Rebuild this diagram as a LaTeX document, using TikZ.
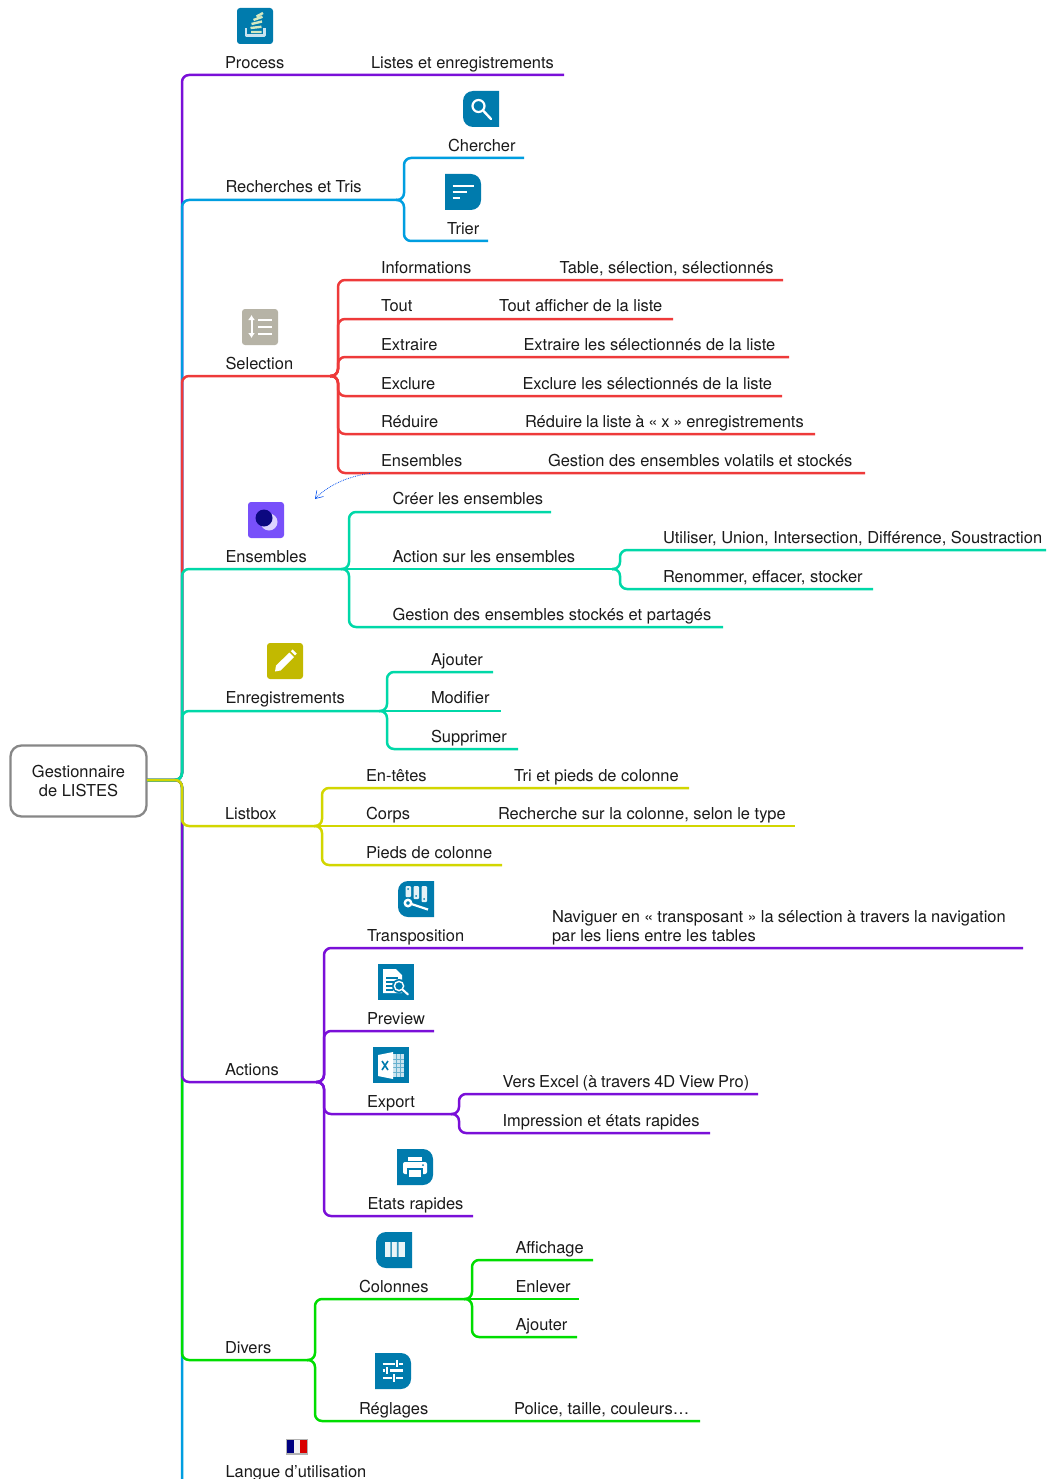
\documentclass[tikz,border=0pt]{standalone}
\usepackage{fontspec}
\setmainfont{TeX Gyre Heros}
\usetikzlibrary{arrows.meta}
\definecolor{cpurple}{HTML}{7A0FD8}
\definecolor{cblue}{HTML}{009EE0}
\definecolor{cred}{HTML}{EE3A3A}
\definecolor{cteal}{HTML}{00D8A8}
\definecolor{cyel}{HTML}{D2D600}
\definecolor{cgreen}{HTML}{00DD00}
\definecolor{ibl}{HTML}{007BAD}
\definecolor{igr}{HTML}{B6B3A6}
\definecolor{ivi}{HTML}{7850FA}
\definecolor{iol}{HTML}{C2B900}
\definecolor{ink}{HTML}{1A1A1A}
\definecolor{paper}{HTML}{D5E8C0}
\tikzset{
  lbl/.style={anchor=base west,inner sep=0pt,outer sep=0pt,text=ink,font=\fontsize{16.45}{19}\selectfont},
  conn/.style={line width=2.5pt,rounded corners=7pt},
  rootbox/.style={draw=black!47,line width=2.3pt,fill=white,rounded corners=11pt,minimum width=136pt,minimum height=71pt,inner sep=0pt,align=center,text=ink,font=\fontsize{16.45}{19}\selectfont},
  glyph/.style={white,line width=2pt},
  relation/.style={draw=blue!50!cblue,line width=.8pt,densely dotted,-{Straight Barb[length=7pt,width=9pt,line width=.6pt]}}
}
% branch: colour, start, spine coordinate, end
\newcommand{\branch}[4]{\draw[conn,#1] (#2) -- (#2 -| #3) -- (#3 |- #4) -- (#4);}
% straight: colour, start, end
\newcommand{\straight}[3]{\draw[conn,#1] (#2) -- (#3);}
% text label: name, x, baseline y, text
\newcommand{\tl}[4]{\node[lbl] (#1) at (#2,#3) {#4};}
% icon plates inside a 36 unit box
\newcommand{\plateA}[1]{\fill[#1,rounded corners=3pt] (0,0) rectangle (36,36);}
\newcommand{\plateL}[1]{\fill[#1] (36,0) [rounded corners=10pt] -- (0,0) -- (0,36) [sharp corners] -- (36,36) -- cycle;}
\newcommand{\plateR}[1]{\fill[#1] (0,36) -- (0,0) [rounded corners=10pt] -- (36,0) -- (36,36) [sharp corners] -- cycle;}
\newcommand{\plateS}[1]{\fill[#1] (0,0) rectangle (36,36);}
\begin{document}
\begin{tikzpicture}[x=1pt,y=-1pt]
\useasboundingbox (0,0) rectangle (1046,1479);
\fill[white] (0,0) rectangle (1046,1479);
% spines
\coordinate (sMain) at (182,0);
\coordinate (sRech) at (404,0);
\coordinate (sSel) at (338,0);
\coordinate (sEns) at (349,0);
\coordinate (sAct) at (620,0);
\coordinate (sEnr) at (387,0);
\coordinate (sLb) at (322,0);
\coordinate (sAc) at (324,0);
\coordinate (sEx) at (459,0);
\coordinate (sDi) at (315,0);
\coordinate (sCo) at (472,0);
% root
\node[rootbox] (root) at (78.5,781) {Gestionnaire\\de LISTES};
\coordinate (rootOut) at (147,780);
% junctions
\coordinate (jRech) at (396,200);
\coordinate (jSel) at (330,376);
\coordinate (jEns) at (341,569);
\coordinate (jAct) at (612,569);
\coordinate (jEnr) at (379,711);
\coordinate (jLb) at (314,826);
\coordinate (jAc) at (316,1082);
\coordinate (jEx) at (451,1114);
\coordinate (jDi) at (307,1360);
\coordinate (jCo) at (464,1299);
% ends
\coordinate (eProcess) at (564,75);
\coordinate (eChercher) at (524,158);
\coordinate (eTrier) at (488,241);
\coordinate (eInfo) at (783,280);
\coordinate (eTout) at (673,319);
\coordinate (eExt) at (789,357);
\coordinate (eExc) at (782,396);
\coordinate (eRed) at (815,434);
\coordinate (eEnsS) at (865,473);
\coordinate (eCre) at (551,512);
\coordinate (eUti) at (1046,550);
\coordinate (eRen) at (873,589);
\coordinate (eGes) at (723,627);
\coordinate (eAjo) at (493,672);
\coordinate (eMod) at (501,711);
\coordinate (eSup) at (518,749);
\coordinate (eEnt) at (689,788);
\coordinate (eCor) at (795,826);
\coordinate (ePie) at (502,865);
\coordinate (eTra) at (1023,948);
\coordinate (ePre) at (434,1031);
\coordinate (eVer) at (758,1094);
\coordinate (eImp) at (710,1133);
\coordinate (eEta) at (473,1216);
\coordinate (eAff) at (593,1260);
\coordinate (eEnl) at (579,1299);
\coordinate (eAj2) at (577,1337);
\coordinate (eReg) at (700,1421);
\coordinate (eLan) at (400,1500);
% main branches, outermost first
\branch{cblue}{rootOut}{sMain}{eLan}
\branch{cgreen}{rootOut}{sMain}{jDi}
\branch{cpurple}{rootOut}{sMain}{jAc}
\branch{cpurple}{rootOut}{sMain}{eProcess}
\branch{cblue}{rootOut}{sMain}{jRech}
\branch{cred}{rootOut}{sMain}{jSel}
\branch{cteal}{rootOut}{sMain}{jEns}
\branch{cteal}{rootOut}{sMain}{jEnr}
\branch{cyel}{rootOut}{sMain}{jLb}
% recherches
\branch{cblue}{jRech}{sRech}{eChercher}
\branch{cblue}{jRech}{sRech}{eTrier}
% selection
\branch{cred}{jSel}{sSel}{eInfo}
\branch{cred}{jSel}{sSel}{eTout}
\branch{cred}{jSel}{sSel}{eExt}
\branch{cred}{jSel}{sSel}{eExc}
\branch{cred}{jSel}{sSel}{eRed}
\branch{cred}{jSel}{sSel}{eEnsS}
% ensembles
\branch{cteal}{jEns}{sEns}{eCre}
\straight{cteal}{jEns}{jAct}
\branch{cteal}{jEns}{sEns}{eGes}
\branch{cteal}{jAct}{sAct}{eUti}
\branch{cteal}{jAct}{sAct}{eRen}
% enregistrements
\branch{cteal}{jEnr}{sEnr}{eAjo}
\straight{cteal}{jEnr}{eMod}
\branch{cteal}{jEnr}{sEnr}{eSup}
% listbox
\branch{cyel}{jLb}{sLb}{eEnt}
\straight{cyel}{jLb}{eCor}
\branch{cyel}{jLb}{sLb}{ePie}
% actions
\branch{cpurple}{jAc}{sAc}{eTra}
\branch{cpurple}{jAc}{sAc}{ePre}
\branch{cpurple}{jAc}{sAc}{jEx}
\branch{cpurple}{jAc}{sAc}{eEta}
\branch{cpurple}{jEx}{sEx}{eVer}
\branch{cpurple}{jEx}{sEx}{eImp}
% divers
\branch{cgreen}{jDi}{sDi}{jCo}
\branch{cgreen}{jDi}{sDi}{eReg}
\branch{cgreen}{jCo}{sCo}{eAff}
\straight{cgreen}{jCo}{eEnl}
\branch{cgreen}{jCo}{sCo}{eAj2}
% relation
\coordinate (rFrom) at (370,473.5);
\coordinate (rTo) at (315,499);
\draw[relation] (rFrom) .. controls (348,476) and (327,486) .. (rTo);
% labels
\tl{tProcess}{225}{68.8}{Process}
\tl{tListes}{371}{68.8}{Listes et enregistrements}
\tl{tRech}{225.5}{192.8}{Recherches et Tris}
\tl{tChercher}{448}{151.8}{Chercher}
\tl{tTrier}{447}{234.8}{Trier}
\tl{tSel}{225.5}{369}{Selection}
\tl{tInfo}{381}{273}{Informations}
\tl{tTable}{559.5}{273}{Table, sélection, sélectionnés}
\tl{tTout}{381}{311}{Tout}
\tl{tToutA}{499}{311}{Tout afficher de la liste}
\tl{tExt}{381}{350}{Extraire}
\tl{tExtA}{523.5}{350}{Extraire les sélectionnés de la liste}
\tl{tExc}{381}{389}{Exclure}
\tl{tExcA}{522.5}{389}{Exclure les sélectionnés de la liste}
\tl{tRed}{381}{427}{Réduire}
\tl{tRedA}{525}{427}{\spaceskip=3.8pt Réduire la liste à « x » enregistrements}
\tl{tEnsS}{381}{466}{Ensembles}
\tl{tEnsA}{548}{466}{Gestion des ensembles volatils et stockés}
\tl{tEns}{225.5}{562}{Ensembles}
\tl{tCre}{392.5}{504}{Créer les ensembles}
\tl{tAct}{392.5}{562}{Action sur les ensembles}
\tl{tUti}{663}{543}{Utiliser, Union, Intersection, Différence, Soustraction}
\tl{tRen}{663}{582}{Renommer, effacer, stocker}
\tl{tGes}{392.5}{620}{Gestion des ensembles stockés et partagés}
\tl{tEnr}{225.5}{703}{Enregistrements}
\tl{tAjo}{431}{665}{Ajouter}
\tl{tMod}{431}{703}{Modifier}
\tl{tSup}{431}{742}{Supprimer}
\tl{tLb}{225}{819}{Listbox}
\tl{tEnt}{366}{781}{En-têtes}
\tl{tEntA}{514}{781}{Tri et pieds de colonne}
\tl{tCor}{366}{819}{Corps}
\tl{tCorA}{498}{819}{Recherche sur la colonne, selon le type}
\tl{tPie}{366}{858}{Pieds de colonne}
\tl{tAc}{225}{1075}{Actions}
\tl{tTra}{367}{941}{Transposition}
\tl{tNav}{552}{922}{\spaceskip=4.2pt Naviguer en « transposant » la sélection à travers la navigation}
\tl{tNav2}{552}{941}{par les liens entre les tables}
\tl{tPre}{367}{1024}{Preview}
\tl{tExp}{367}{1107}{Export}
\tl{tVer}{502.5}{1087}{\spaceskip=3.7pt Vers Excel (à travers 4D View Pro)}
\tl{tImp}{502.5}{1126}{Impression et états rapides}
\tl{tEta}{367.5}{1209}{Etats rapides}
\tl{tDi}{225}{1353}{Divers}
\tl{tCol}{359}{1292}{Colonnes}
\tl{tAff}{515.5}{1253}{Affichage}
\tl{tEnl}{515.5}{1292}{Enlever}
\tl{tAj2}{515.5}{1330}{Ajouter}
\tl{tReg}{359}{1414}{Réglages}
\tl{tPol}{514}{1414}{Police, taille, couleurs…}
\tl{tLan}{225.5}{1477.5}{Langue d’utilisation}
% icons
\begin{scope}[shift={(237,8)}]
  \plateA{ibl}
  \draw[white!80!ibl,line width=2.4pt,line join=round] (9,20.5) -- (9,27.5) -- (27.5,27.5) -- (27.5,20.5);
  \draw[paper,line width=2.4pt] (14,24) -- (24.5,24) (13.5,20) -- (24.5,18.8) (14.5,16) -- (25,13.5) (16.5,12) -- (25.5,8.8) (19.5,8.5) -- (26,5);
\end{scope}
\begin{scope}[shift={(463,91)}]
  \plateL{ibl}
  \draw[glyph,line width=2.2pt] (15.5,15) circle (6pt);
  \draw[glyph,line cap=round,line width=2.4pt] (20.5,20) -- (28,28);
\end{scope}
\begin{scope}[shift={(445,174)}]
  \plateR{ibl}
  \draw[glyph,line width=2.2pt] (7.5,12) -- (28.5,12) (7.5,18) -- (21.5,18) (7.5,24) -- (14.5,24);
\end{scope}
\begin{scope}[shift={(242,309)}]
  \plateA{igr}
  \draw[white,line width=2pt,{Latex[length=5pt,width=7pt]}-{Latex[length=5pt,width=7pt]}] (9.5,6) -- (9.5,29);
  \draw[white,line width=2.4pt] (16,11) -- (30,11) (16,18) -- (30,18) (16,25) -- (30,25);
\end{scope}
\begin{scope}[shift={(248,502)}]
  \plateA{ivi}
  \fill[white!75!ivi] (21,20) circle (8.5pt);
  \fill[blue!45!black!90!ivi] (16,16) circle (8.5pt);
\end{scope}
\begin{scope}[shift={(267,643)}]
  \plateA{iol}
  \fill[white] (8,28.5) -- (9,22.5) -- (22.5,9.5) -- (27,14) -- (13.5,27.5) -- cycle;
  \fill[white] (23.8,8.2) -- (25.6,6.4) -- (29.8,10.6) -- (28,12.4) -- cycle;
\end{scope}
\begin{scope}[shift={(398,881)}]
  \plateL{ibl}
  \fill[white!90!ibl,rounded corners=1pt] (7.5,5) rectangle (13,16) (15.5,5) rectangle (21,18) (23.5,5) rectangle (29,21);
  \fill[ibl] (10.2,8) circle (1pt) (18.2,15) circle (1pt) (26.2,18) circle (1pt);
  \draw[white,line width=2.4pt] (10,22) circle (3.2pt);
  \draw[white,line width=2.2pt] (13.5,23) -- (30,28.5);
\end{scope}
\begin{scope}[shift={(378,964)}]
  \plateS{ibl}
  \fill[white] (5,5) -- (18,5) -- (24,11) -- (24,29) -- (5,29) -- cycle;
  \draw[ibl,line width=1.2pt] (8,14) -- (20,14) (8,18) -- (16,18) (8,22) -- (15,22) (8,26) -- (15,26);
  \fill[ibl] (21,22) circle (7pt);
  \draw[white,line width=1.4pt] (21,22) circle (4.6pt);
  \draw[white,line width=2pt,line cap=round] (24.5,25.5) -- (30,30.5);
\end{scope}
\begin{scope}[shift={(373,1047)}]
  \plateS{ibl}
  \fill[white!80!ibl] (18,7) rectangle (31,30);
  \draw[ibl!60!white,line width=.7pt] (23,7) -- (23,30) (27,7) -- (27,30) (18,12) -- (31,12) (18,16) -- (31,16) (18,20) -- (31,20) (18,25) -- (31,25);
  \fill[white] (5,8) -- (20,5) -- (20,32) -- (5,29) -- cycle;
  \draw[ibl,line width=1.6pt] (9,14) -- (15,23) (15,14) -- (9,23);
\end{scope}
\begin{scope}[shift={(397,1149)}]
  \plateR{ibl}
  \fill[white] (11,8) rectangle (25,12);
  \fill[white,rounded corners=2pt] (6,13) rectangle (30,25);
  \fill[white,draw=ibl,line width=1.2pt] (11,20) rectangle (25,28.5);
  \fill[ibl] (26,16) circle (1pt);
\end{scope}
\begin{scope}[shift={(376,1232)}]
  \plateL{ibl}
  \fill[white!92!ibl] (9,10) rectangle (28.5,25);
  \fill[ibl!80!white] (14.3,10) rectangle (15.9,25) (20.9,10) rectangle (22.5,25);
\end{scope}
\begin{scope}[shift={(375,1353)}]
  \plateR{ibl}
  \draw[white,line width=2.2pt] (7.7,10.7) -- (19.5,10.7) (24,10.7) -- (28.3,10.7) (7.7,17.5) -- (10.2,17.5) (14.5,17.5) -- (28.3,17.5) (7.7,24.7) -- (17,24.7) (21,24.7) -- (28.3,24.7);
  \draw[white,line width=2.2pt] (21.7,7) -- (21.7,14) (12.3,14) -- (12.3,21) (19,21) -- (19,28.5);
\end{scope}
\begin{scope}[shift={(286,1439)}]
  \fill[black!30] (0,0) rectangle (21.5,15.5);
  \fill[blue!50!black] (.8,1) rectangle (7.5,14);
  \fill[white!95!black] (7.5,1) rectangle (14,14);
  \fill[red!85!black] (14,1) rectangle (20.8,14);
\end{scope}
\end{tikzpicture}
\end{document}
